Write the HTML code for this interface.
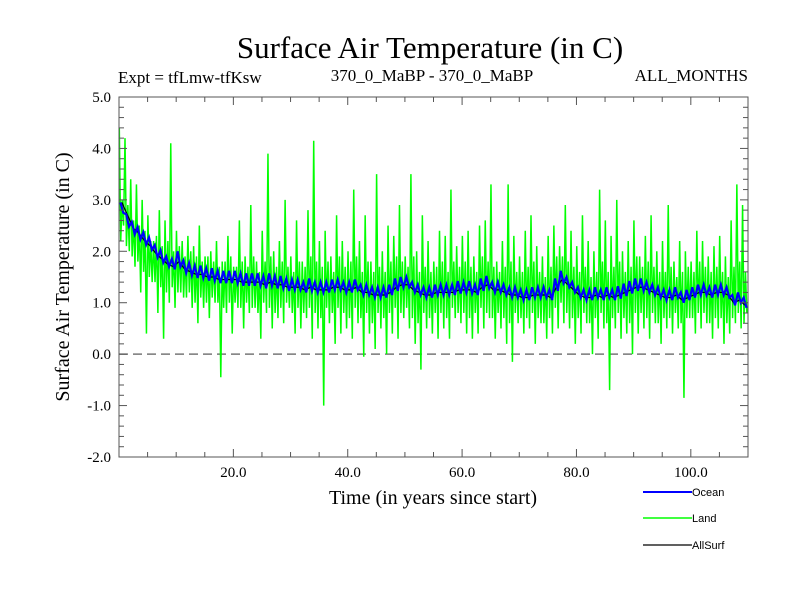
<!DOCTYPE html>
<html><head><meta charset="utf-8"><style>
body{margin:0;background:#fff;width:800px;height:600px;overflow:hidden}
svg text{font-family:"Liberation Serif",serif}
.s{font-family:"Liberation Sans",sans-serif}
</style></head><body>
<svg id="c" width="800" height="600">
<text x="430" y="58" font-size="31" text-anchor="middle">Surface Air Temperature (in C)</text>
<text x="118" y="83" font-size="17">Expt = tfLmw-tfKsw</text>
<text x="432" y="81" font-size="17" text-anchor="middle">370_0_MaBP - 370_0_MaBP</text>
<text x="748" y="81" font-size="17" text-anchor="end">ALL_MONTHS</text>
<text transform="translate(69,277) rotate(-90)" font-size="20" text-anchor="middle">Surface Air Temperature (in C)</text>
<text x="433" y="504" font-size="20" text-anchor="middle">Time (in years since start)</text>
<g id="plot"></g>
<g id="legend">
<line x1="643" y1="492" x2="692" y2="492" stroke="#0000ff" stroke-width="2"/>
<text class="s" x="692" y="496" font-size="11">Ocean</text>
<line x1="643" y1="518" x2="692" y2="518" stroke="#00ff00" stroke-width="1.5"/>
<text class="s" x="692" y="522" font-size="11">Land</text>
<line x1="643" y1="545" x2="692" y2="545" stroke="#000" stroke-width="1.2"/>
<text class="s" x="692" y="549" font-size="11">AllSurf</text>
</g>
</svg>
<script>
const xTicks=[20,40,60,80,100];
const xTickLabels=["20.0","40.0","60.0","80.0","100.0"];
const yTicks=[-2,-1,0,1,2,3,4,5];
const yTickLabels=["-2.0","-1.0","0.0","1.0","2.0","3.0","4.0","5.0"];
const landHi=[4.4,4.2,3.4,3.3,3.0,2.7,2.2,2.8,2.6,4.1,2.4,2.2,2.3,2.1,2.5,1.9,2.0,2.2,1.8,2.3,1.7,2.6,1.9,2.9,1.8,2.4,3.9,2.0,2.2,3.0,1.9,2.6,1.8,2.8,4.15,2.2,2.4,1.9,2.7,2.2,2.0,3.2,2.2,2.7,1.8,3.5,2.0,2.5,2.3,2.9,1.9,3.5,2.0,2.7,2.2,1.8,2.4,2.3,3.2,2.1,2.3,2.4,1.9,2.5,2.6,3.3,1.8,2.2,3.3,2.3,1.9,2.4,2.7,2.1,1.9,2.3,2.5,2.1,2.9,2.4,2.1,2.7,2.2,2.0,3.2,2.6,2.3,3.0,2.0,2.2,2.6,1.9,2.3,2.7,2.0,2.2,2.9,1.8,2.2,2.0,1.8,2.4,2.2,1.9,2.1,2.3,1.9,2.6,3.3,2.9];
const landMidA=[3.0,2.9,2.6,2.5,2.4,2.2,2.3,2.1,2.2,2.0,2.1,1.9,2.0,1.9,1.8,1.9,1.8,1.7,1.8,1.9,1.7,1.8,1.7,1.9,1.6,1.8,1.9,1.7,1.8,1.7,1.6,1.8,1.7,1.9,1.8,1.7,1.8,1.6,1.9,1.7,1.8,1.9,1.6,1.8,1.6,1.7,1.6,1.8,1.9,1.8,1.7,1.9,1.6,1.7,1.6,1.7,1.8,1.6,1.8,1.7,1.8,1.7,1.6,1.9,1.8,1.7,1.6,1.7,1.8,1.6,1.6,1.7,1.8,1.6,1.5,1.7,1.9,1.9,1.8,1.7,1.6,1.7,1.5,1.6,1.8,1.6,1.7,1.8,1.6,1.7,1.9,1.7,1.8,1.7,1.6,1.6,1.7,1.5,1.6,1.7,1.6,1.8,1.7,1.6,1.7,1.6,1.5,1.7,1.8,1.6];
const landMidB=[2.2,2.1,1.9,1.8,1.6,1.5,1.4,1.3,1.2,1.3,1.2,1.1,1.2,1.0,1.1,1.0,1.1,1.0,0.9,1.0,1.0,0.9,1.0,0.9,0.8,1.0,0.9,0.8,0.9,1.0,0.8,0.9,0.8,0.9,0.8,0.7,0.9,0.8,0.9,0.8,0.7,0.9,0.7,0.8,0.6,0.8,0.7,0.8,0.9,0.8,0.9,0.7,0.6,0.8,0.7,0.8,0.8,0.7,0.9,0.8,0.8,0.7,0.8,0.9,0.8,0.7,0.8,0.7,0.6,0.8,0.7,0.7,0.8,0.7,0.6,0.7,0.9,1.0,0.8,0.7,0.7,0.8,0.6,0.7,0.8,0.6,0.7,0.8,0.7,0.6,0.8,0.8,0.7,0.8,0.6,0.7,0.7,0.8,0.6,0.7,0.7,0.8,0.8,0.6,0.7,0.7,0.6,0.7,0.8,0.6];
const landLo=[2.5,2.0,1.7,1.2,0.4,1.4,0.8,0.3,1.0,0.9,1.2,1.1,0.9,0.6,0.9,0.7,1.0,-0.45,0.8,0.4,0.9,0.5,0.8,0.9,0.3,0.8,0.5,0.7,0.6,0.9,0.4,0.5,0.7,0.3,0.5,-1.0,0.6,0.2,0.4,0.5,0.3,0.6,-0.05,0.4,0.1,0.5,0.0,0.4,0.3,0.7,0.5,0.2,-0.3,0.5,0.4,0.3,0.5,0.3,0.7,0.6,0.4,0.3,0.4,0.5,0.7,0.3,0.5,0.2,-0.15,0.6,0.4,0.5,0.2,0.6,0.3,0.4,0.5,0.6,0.5,0.2,0.4,0.6,0.0,0.3,0.5,-0.7,0.5,0.3,0.4,0.0,0.4,0.5,0.3,0.6,0.2,0.5,0.4,0.5,-0.85,0.7,0.4,0.5,0.6,0.3,0.5,0.2,0.4,0.6,0.5,0.8];
const oceanMean=[2.85,2.6,2.45,2.35,2.25,2.15,2.0,1.9,1.8,1.75,1.85,1.7,1.65,1.6,1.6,1.55,1.55,1.5,1.5,1.5,1.5,1.45,1.45,1.45,1.45,1.4,1.45,1.4,1.4,1.35,1.35,1.35,1.3,1.35,1.3,1.3,1.3,1.35,1.35,1.3,1.3,1.35,1.25,1.25,1.2,1.2,1.2,1.25,1.35,1.4,1.4,1.3,1.25,1.2,1.2,1.25,1.25,1.25,1.25,1.3,1.3,1.3,1.25,1.35,1.4,1.3,1.3,1.25,1.2,1.2,1.15,1.15,1.2,1.2,1.2,1.15,1.35,1.5,1.4,1.3,1.2,1.15,1.15,1.2,1.15,1.2,1.15,1.2,1.25,1.3,1.35,1.35,1.3,1.25,1.2,1.15,1.15,1.2,1.1,1.15,1.2,1.25,1.25,1.2,1.25,1.25,1.2,1.05,1.1,1.0];
const oceanSwing=[0.1,0.12,0.12,0.12,0.12,0.12,0.12,0.12,0.1,0.1,0.15,0.12,0.12,0.12,0.12,0.12,0.12,0.12,0.12,0.12,0.12,0.12,0.12,0.12,0.12,0.12,0.12,0.12,0.12,0.12,0.1,0.1,0.1,0.12,0.1,0.1,0.1,0.1,0.1,0.1,0.1,0.1,0.1,0.1,0.1,0.1,0.1,0.1,0.12,0.1,0.1,0.1,0.1,0.1,0.1,0.1,0.1,0.1,0.1,0.12,0.1,0.12,0.1,0.12,0.12,0.1,0.1,0.1,0.1,0.1,0.1,0.1,0.1,0.1,0.1,0.1,0.12,0.12,0.1,0.1,0.1,0.1,0.1,0.1,0.1,0.1,0.1,0.12,0.12,0.12,0.12,0.12,0.1,0.1,0.1,0.1,0.1,0.1,0.1,0.1,0.1,0.1,0.1,0.1,0.1,0.1,0.1,0.1,0.1,0.1];
const allSurf=[2.95,2.7,2.45,2.35,2.2,2.1,1.95,1.85,1.75,1.7,1.8,1.65,1.6,1.55,1.55,1.5,1.5,1.45,1.45,1.45,1.45,1.4,1.4,1.4,1.4,1.35,1.4,1.35,1.35,1.3,1.3,1.3,1.25,1.3,1.25,1.25,1.25,1.3,1.3,1.25,1.25,1.3,1.2,1.2,1.15,1.15,1.15,1.2,1.3,1.35,1.35,1.25,1.2,1.15,1.15,1.2,1.2,1.2,1.2,1.25,1.25,1.25,1.2,1.3,1.35,1.25,1.25,1.2,1.15,1.15,1.1,1.1,1.15,1.15,1.15,1.1,1.3,1.45,1.35,1.25,1.15,1.1,1.1,1.15,1.1,1.15,1.1,1.15,1.2,1.25,1.3,1.3,1.25,1.2,1.15,1.1,1.1,1.15,1.05,1.1,1.15,1.2,1.2,1.15,1.2,1.2,1.15,1.0,1.05,0.95];
const X0=119,X1=748,Y0=97,Y1=457,xMin=0,xMax=110,yMin=-2,yMax=5;
const xs=v=>X0+(v-xMin)/(xMax-xMin)*(X1-X0);
const ys=v=>Y1-(v-yMin)/(yMax-yMin)*(Y1-Y0);
const NS='http://www.w3.org/2000/svg',plot=document.getElementById('plot');
function mk(t,a){const e=document.createElementNS(NS,t);for(const k in a)e.setAttribute(k,a[k]);plot.appendChild(e);return e;}
let z=mk('line',{x1:X0,x2:X1,y1:ys(0),y2:ys(0),stroke:'#777','stroke-width':1.5,'stroke-dasharray':'9,5'});


let p=[];
landHi.forEach((h,i)=>{p.push(xs(i+0.05)+','+ys(h));p.push(xs(i+0.3)+','+ys(landMidB[i]));p.push(xs(i+0.55)+','+ys(landMidA[i]));p.push(xs(i+0.8)+','+ys(landLo[i]));});
let land=mk('polyline',{points:p.join(' '),fill:'none',stroke:'#00ff00','stroke-width':1.5});


p=allSurf.map((v,i)=>xs(i+0.5)+','+ys(v));
let al=mk('polyline',{points:p.join(' '),fill:'none',stroke:'#000','stroke-width':1.2});


p=[];
oceanMean.forEach((m,i)=>{p.push(xs(i+0.25)+','+ys(m+oceanSwing[i]));p.push(xs(i+0.75)+','+ys(m-oceanSwing[i]));});
let oc=mk('polyline',{points:p.join(' '),fill:'none',stroke:'#0000ff','stroke-width':2.2});


let fr=mk('rect',{x:X0,y:Y0,width:X1-X0,height:Y1-Y0,fill:'none',stroke:'#555','stroke-width':1});


for(let v=5;v<xMax;v+=5){const maj=v%20===0,L=maj?8:5;
 mk('line',{x1:xs(v),x2:xs(v),y1:Y1,y2:Y1-L,stroke:'#555'});
 mk('line',{x1:xs(v),x2:xs(v),y1:Y0,y2:Y0+L,stroke:'#555'});}
for(let k=0;k<=35;k++){const v=yMin+k*0.2,maj=k%5===0,L=maj?8:5;
 mk('line',{x1:X0,x2:X0+L,y1:ys(v),y2:ys(v),stroke:'#555'});
 mk('line',{x1:X1,x2:X1-L,y1:ys(v),y2:ys(v),stroke:'#555'});}
xTicks.forEach((v,i)=>{const t=mk('text',{x:xs(v),y:Y1+20,'font-size':15,'text-anchor':'middle'});t.textContent=xTickLabels[i];

});
yTicks.forEach((v,i)=>{const t=mk('text',{x:X0-8,y:ys(v)+5,'font-size':15,'text-anchor':'end'});t.textContent=yTickLabels[i];

});
</script>
</body></html>
